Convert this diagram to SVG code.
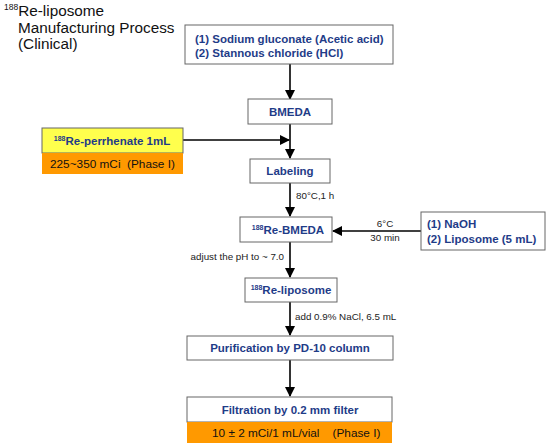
<svg xmlns="http://www.w3.org/2000/svg" width="550" height="447" viewBox="0 0 550 447">
<defs>
<style>
.box{fill:#fff;stroke:#666;stroke-width:1}
.t{font-family:"Liberation Sans",Arial,sans-serif;font-weight:bold;font-size:11.5px;fill:#1f3c88}
.sup{font-size:7px}
.lbl{font-family:"Liberation Sans",Arial,sans-serif;font-size:9.8px;fill:#222}
.title{font-family:"Liberation Sans",Arial,sans-serif;font-size:15.3px;fill:#111}
.ph{font-family:"Liberation Sans",Arial,sans-serif;font-size:11.8px;fill:#111}
.ln{stroke:#000;stroke-width:1.6;fill:none}
</style>
<marker id="ah" markerWidth="10" markerHeight="10" refX="9" refY="5" orient="auto" markerUnits="userSpaceOnUse">
<path d="M0,0 L10,5 L0,10 z" fill="#000"/>
</marker>
</defs>
<rect width="550" height="447" fill="#fff"/>
<g id="title">
<text class="title" x="4" y="16"><tspan font-size="8.5" dy="-6">188</tspan><tspan dy="6">Re-liposome</tspan></text>
<text class="title" x="18" y="33">Manufacturing Process</text>
<text class="title" x="18" y="49">(Clinical)</text>
</g>
<g id="connectors">
<line class="ln" x1="290" y1="64" x2="290" y2="99" marker-end="url(#ah)"/>
<line class="ln" x1="290" y1="124" x2="290" y2="158" marker-end="url(#ah)"/>
<line class="ln" x1="183" y1="140" x2="289" y2="140" marker-end="url(#ah)"/>
<line class="ln" x1="290" y1="183" x2="290" y2="216" marker-end="url(#ah)"/>
<line class="ln" x1="421" y1="231" x2="333" y2="231" marker-end="url(#ah)"/>
<line class="ln" x1="290" y1="242" x2="290" y2="277" marker-end="url(#ah)"/>
<line class="ln" x1="290" y1="302" x2="290" y2="335" marker-end="url(#ah)"/>
<line class="ln" x1="290" y1="360" x2="290" y2="396" marker-end="url(#ah)"/>
<text class="lbl" x="296" y="199">80°C,1 h</text>
<text class="lbl" x="385" y="227" text-anchor="middle">6°C</text>
<text class="lbl" x="385" y="241" text-anchor="middle">30 min</text>
<text class="lbl" x="284" y="260" text-anchor="end">adjust the pH to ~ 7.0</text>
<text class="lbl" x="295" y="320">add 0.9% NaCl, 6.5 mL</text>
</g>
<g id="reagents">
<rect class="box" x="185" y="25" width="208" height="39"/>
<text class="t" x="195" y="43">(1) Sodium gluconate (Acetic acid)</text>
<text class="t" x="195" y="57">(2) Stannous chloride (HCl)</text>
</g>
<g id="bmeda">
<rect class="box" x="248" y="99" width="84" height="25"/>
<text class="t" x="290" y="116" text-anchor="middle" font-size="12">BMEDA</text>
</g>
<g id="perrhenate">
<rect x="42" y="128" width="141" height="25" fill="#ffff4d" stroke="#666"/>
<rect x="42" y="153" width="141" height="21" fill="#ff9900"/>
<text class="t" x="112" y="145" text-anchor="middle" font-size="11.3"><tspan class="sup" dy="-4">188</tspan><tspan dy="4">Re-perrhenate 1mL</tspan></text>
<text class="ph" x="50" y="168" xml:space="preserve">225~350 mCi  (Phase I)</text>
</g>
<g id="labeling">
<rect class="box" x="250" y="159" width="80" height="24"/>
<text class="t" x="290" y="175" text-anchor="middle">Labeling</text>
</g>
<g id="re-bmeda">
<rect class="box" x="240" y="217" width="92" height="25"/>
<text class="t" x="288" y="234" text-anchor="middle" font-size="12"><tspan class="sup" dy="-4">188</tspan><tspan dy="4">Re-BMEDA</tspan></text>
</g>
<g id="naoh">
<rect class="box" x="421" y="212" width="124" height="38"/>
<text class="t" x="427" y="228">(1) NaOH</text>
<text class="t" x="427" y="243">(2) Liposome (5 mL)</text>
</g>
<g id="re-liposome">
<rect class="box" x="245" y="278" width="92" height="24"/>
<text class="t" x="291" y="294" text-anchor="middle"><tspan class="sup" dy="-4">188</tspan><tspan dy="4">Re-liposome</tspan></text>
</g>
<g id="purification">
<rect class="box" x="187" y="336" width="206" height="24"/>
<text class="t" x="290" y="352" text-anchor="middle">Purification by PD-10 column</text>
</g>
<g id="filtration">
<rect class="box" x="187" y="397" width="205" height="25"/>
<rect x="187" y="422" width="205" height="21" fill="#ff9900"/>
<text class="t" x="290" y="414" text-anchor="middle">Filtration by 0.2 mm filter</text>
<text class="ph" x="212" y="437" font-size="11.5" xml:space="preserve">10 ± 2 mCi/1 mL/vial    (Phase I)</text>
</g>
</svg>
